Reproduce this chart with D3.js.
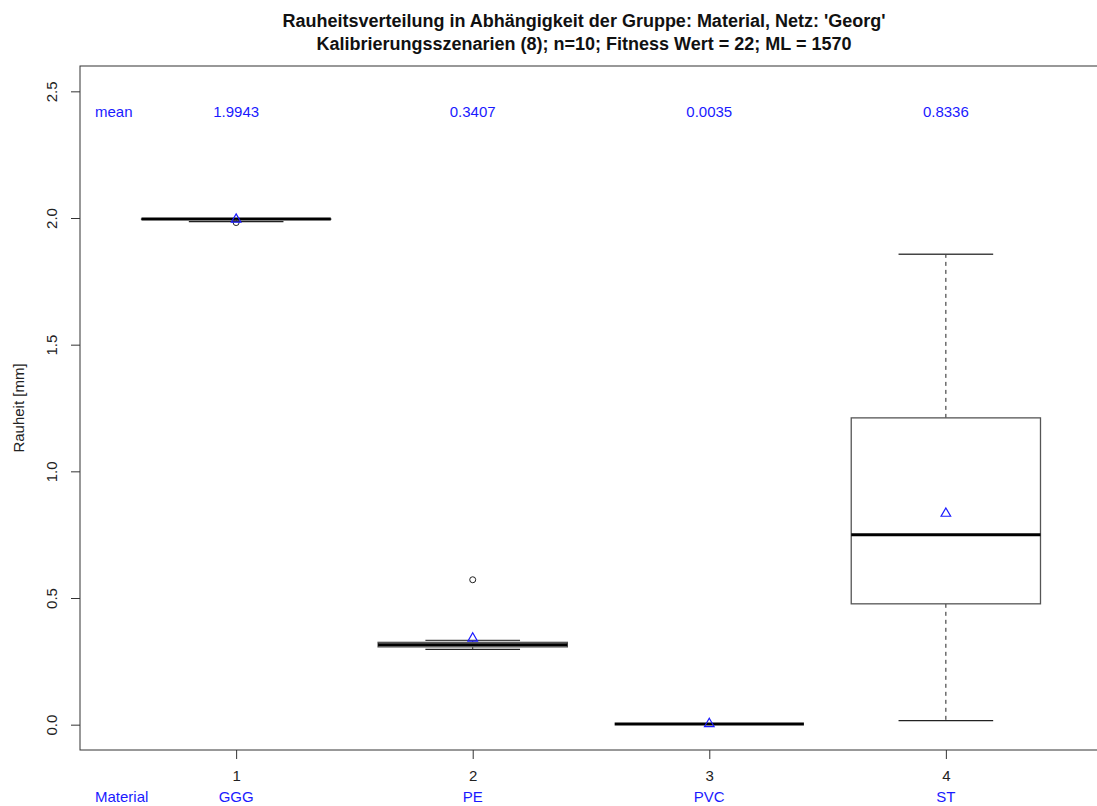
<!DOCTYPE html>
<html>
<head>
<meta charset="utf-8">
<script src="https://cdn.jsdelivr.net/npm/d3@7"></script>
<style>
  html, body { margin: 0; padding: 0; background: #fff; }
  svg { display: block; font-family: "Liberation Sans", Arial, sans-serif; }
</style>
</head>
<body>
<svg id="chart" width="1097" height="806"></svg>
<script>
// Group labels and five-number summaries per material
const groups     = ["GGG", "PE", "PVC", "ST"];
const groupIds   = ["1", "2", "3", "4"];
const whiskerLow = [1.986, 0.297, 0.003, 0.016];
const q1         = [1.995, 0.307, 0.003, 0.477];
const medians    = [1.996, 0.315, 0.003, 0.750];
const q3         = [1.996, 0.325, 0.003, 1.211];
const whiskerHigh= [1.996, 0.333, 0.003, 1.857];
const outliers   = [[1.982], [0.572], [], []];
const means      = [1.9943, 0.3407, 0.0035, 0.8336];
const meanLabels = ["1.9943", "0.3407", "0.0035", "0.8336"];
const yTicks     = [0.0, 0.5, 1.0, 1.5, 2.0, 2.5];

const svg = d3.select("#chart");
const plotL = 80, plotR = 1102, plotT = 66, plotB = 750;

const x = d3.scaleLinear().domain([0.34, 4.66]).range([plotL, plotR]);
const y = d3.scaleLinear().domain([-0.1, 2.6]).range([plotB, plotT]);

const boxHalf = 0.4, capHalf = 0.2;
const dark = "#333";
const fs = 15;

// Title
const title = svg.append("g").attr("font-weight", "bold").attr("font-size", 18)
  .attr("text-anchor", "middle").attr("fill", "#111");
title.append("text").attr("x", 584).attr("y", 27)
  .text("Rauheitsverteilung in Abhängigkeit der Gruppe: Material, Netz: 'Georg'");
title.append("text").attr("x", 584).attr("y", 50)
  .text("Kalibrierungsszenarien (8); n=10; Fitness Wert = 22; ML = 1570");

// Plot frame
svg.append("rect").attr("x", plotL).attr("y", plotT)
  .attr("width", plotR - plotL).attr("height", plotB - plotT)
  .attr("fill", "none").attr("stroke", dark).attr("stroke-width", 1);

// Y axis
const yAxis = svg.append("g").attr("transform", `translate(${plotL},0)`)
  .call(d3.axisLeft(y).tickValues(yTicks).tickFormat(d3.format(".1f")).tickSize(9).tickSizeOuter(0));
yAxis.select(".domain").remove();
yAxis.selectAll(".tick line").attr("stroke", dark);
yAxis.selectAll(".tick text")
  .attr("font-size", fs).attr("fill", "#222")
  .attr("transform", "rotate(-90)")
  .attr("x", 0).attr("y", -23)
  .attr("dy", 0)
  .attr("text-anchor", "middle");

svg.append("text")
  .attr("transform", `translate(24,${(plotT + plotB) / 2}) rotate(-90)`)
  .attr("text-anchor", "middle").attr("font-size", fs).attr("fill", "#222")
  .text("Rauheit [mm]");

// X axis
const xAxis = svg.append("g").attr("transform", `translate(0,${plotB})`)
  .call(d3.axisBottom(x).tickValues([1, 2, 3, 4]).tickFormat((d, i) => groupIds[i]).tickSize(9).tickSizeOuter(0));
xAxis.select(".domain").remove();
xAxis.selectAll(".tick line").attr("stroke", dark);
xAxis.selectAll(".tick text").attr("font-size", fs).attr("fill", "#222").attr("y", 20).attr("dy", "0.71em");

// Group names below the axis
svg.append("text").attr("x", 95).attr("y", 802).attr("font-size", fs).attr("fill", "#1a1aff").text("Material");
svg.selectAll(".grp").data(groups).join("text")
  .attr("class", "grp")
  .attr("x", (d, i) => x(i + 1)).attr("y", 802)
  .attr("text-anchor", "middle").attr("font-size", fs).attr("fill", "#1a1aff")
  .text(d => d);

// Mean labels along the top
svg.append("text").attr("x", 95).attr("y", 117).attr("font-size", fs).attr("fill", "#1a1aff").text("mean");
svg.selectAll(".meanlab").data(meanLabels).join("text")
  .attr("class", "meanlab")
  .attr("x", (d, i) => x(i + 1)).attr("y", 117)
  .attr("text-anchor", "middle").attr("font-size", fs).attr("fill", "#1a1aff")
  .text(d => d);

// Boxplots
const box = svg.selectAll(".box").data(groups).join("g").attr("class", "box");

// whiskers (dashed)
box.append("line")
  .attr("x1", (d, i) => x(i + 1)).attr("x2", (d, i) => x(i + 1))
  .attr("y1", (d, i) => y(q3[i])).attr("y2", (d, i) => y(whiskerHigh[i]))
  .attr("stroke", "#222").attr("stroke-dasharray", "4,4");
box.append("line")
  .attr("x1", (d, i) => x(i + 1)).attr("x2", (d, i) => x(i + 1))
  .attr("y1", (d, i) => y(q1[i])).attr("y2", (d, i) => y(whiskerLow[i]))
  .attr("stroke", "#222").attr("stroke-dasharray", "4,4");

// staples
box.append("line")
  .attr("x1", (d, i) => x(i + 1 - capHalf)).attr("x2", (d, i) => x(i + 1 + capHalf))
  .attr("y1", (d, i) => y(whiskerHigh[i])).attr("y2", (d, i) => y(whiskerHigh[i]))
  .attr("stroke", "#444").attr("stroke-width", 1.3);
box.append("line")
  .attr("x1", (d, i) => x(i + 1 - capHalf)).attr("x2", (d, i) => x(i + 1 + capHalf))
  .attr("y1", (d, i) => y(whiskerLow[i])).attr("y2", (d, i) => y(whiskerLow[i]))
  .attr("stroke", "#222").attr("stroke-width", 1.3);

// box bodies
box.append("rect")
  .attr("x", (d, i) => x(i + 1 - boxHalf))
  .attr("width", (d, i) => x(i + 1 + boxHalf) - x(i + 1 - boxHalf))
  .attr("y", (d, i) => y(q3[i]))
  .attr("height", (d, i) => Math.max(0, y(q1[i]) - y(q3[i])))
  .attr("fill", "#fff").attr("stroke", "#555").attr("stroke-width", 1.3);

// medians
box.append("line")
  .attr("x1", (d, i) => x(i + 1 - boxHalf)).attr("x2", (d, i) => x(i + 1 + boxHalf))
  .attr("y1", (d, i) => y(medians[i])).attr("y2", (d, i) => y(medians[i]))
  .attr("stroke", "#000").attr("stroke-width", 3);

// outliers
box.each(function (d, i) {
  d3.select(this).selectAll("circle").data(outliers[i]).join("circle")
    .attr("cx", x(i + 1)).attr("cy", v => y(v)).attr("r", 3)
    .attr("fill", "none").attr("stroke", "#222");
});

// means as open triangles
const tri = d3.symbol().type(d3.symbolTriangle).size(40);
box.append("path")
  .attr("d", tri)
  .attr("transform", (d, i) => `translate(${x(i + 1)},${y(means[i])})`)
  .attr("fill", "none").attr("stroke", "#1a1aff").attr("stroke-width", 1.2);
</script>
</body>
</html>
